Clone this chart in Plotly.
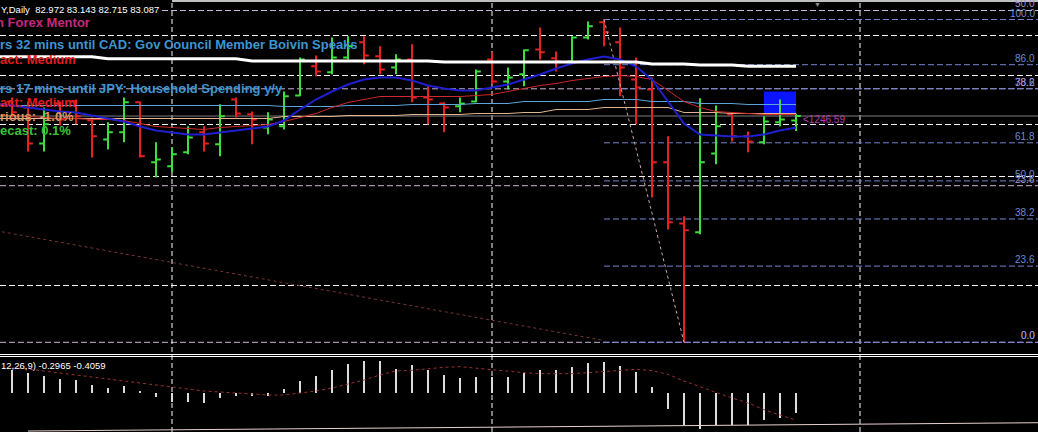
import plotly.graph_objects as go

# ---------------- data ----------------
bar_idx = list(range(50))
opens = [83.45, 83.30, 82.40, 83.40, 83.45, 82.98, 82.50, 82.68, 83.43, 81.93,
         81.83, 82.18, 82.68, 82.38, 83.50, 83.13, 82.80, 82.83, 83.60, 84.33,
         84.18, 84.55, 84.93, 84.58, 84.30, 84.50, 83.55, 83.40, 83.33, 83.45,
         84.50, 83.95, 84.13, 84.75, 84.53, 84.45, 85.05, 85.43, 84.93, 84.00,
         83.75, 81.93, 80.40, 80.18, 82.15, 83.13, 82.58, 82.43, 82.93, 82.972]
highs = [83.55, 83.45, 83.30, 83.45, 83.50, 83.05, 82.93, 83.55, 83.45, 82.43,
         82.30, 82.83, 82.83, 83.38, 83.55, 83.20, 83.18, 83.70, 84.55, 84.60,
         85.05, 85.08, 85.08, 84.83, 84.63, 84.88, 83.83, 83.43, 83.55, 84.25,
         84.68, 84.30, 84.75, 85.30, 84.70, 85.08, 85.45, 85.50, 85.30, 84.55,
         84.05, 82.58, 80.58, 83.53, 83.35, 83.18, 82.70, 83.08, 83.50, 83.143]
lows = [83.05, 82.20, 82.20, 82.85, 82.88, 82.05, 82.25, 82.43, 82.05, 81.55,
        81.68, 82.13, 82.20, 82.08, 83.05, 82.38, 82.63, 82.75, 83.58, 84.08,
        84.13, 84.50, 84.38, 84.13, 84.13, 83.43, 82.88, 82.68, 83.18, 83.43,
        83.88, 83.75, 83.83, 84.50, 84.20, 84.43, 85.00, 84.83, 83.58, 82.88,
        81.05, 80.25, 77.43, 80.13, 81.88, 82.45, 82.18, 82.38, 82.83, 82.715]
closes = [83.18, 82.40, 82.88, 83.00, 83.08, 82.58, 82.68, 83.43, 82.08, 82.00,
          82.13, 82.55, 82.40, 83.08, 83.15, 83.00, 83.00, 83.58, 84.50, 84.20,
          84.55, 84.83, 84.60, 84.25, 84.50, 83.55, 83.50, 83.30, 83.40, 84.20,
          83.95, 84.05, 84.73, 84.68, 84.45, 85.05, 85.33, 85.18, 84.30, 83.80,
          81.93, 80.43, 80.23, 81.93, 82.83, 82.58, 82.45, 82.95, 83.00, 83.087]

ma_idx = list(range(-1, 50))
ma_white = [84.57] * 7 + [84.52] * 9 + [84.46] * 12 + [84.44] * 13 + [84.39] * 3 + [84.36] * 3 + [84.33] * 4
ma_blue = [83.40, 83.35, 83.30, 83.25, 83.20, 83.175, 83.10, 83.025, 82.95, 82.825,
           82.725, 82.675, 82.625, 82.625, 82.675, 82.725, 82.775, 82.825, 82.975, 83.25,
           83.50, 83.70, 83.875, 84.00, 84.05, 84.05, 83.975, 83.85, 83.775, 83.725,
           83.725, 83.80, 83.875, 84.00, 84.125, 84.275, 84.40, 84.50, 84.575, 84.50,
           84.325, 84.00, 83.45, 82.90, 82.625, 82.60, 82.575, 82.575, 82.625, 82.725, 82.80]
ma_red = [83.10, 83.10, 83.075, 83.05, 83.025, 83.025, 83.00, 83.00, 82.975, 82.90,
          82.825, 82.80, 82.775, 82.75, 82.80, 82.825, 82.85, 82.875, 82.95, 83.05,
          83.15, 83.30, 83.425, 83.50, 83.575, 83.575, 83.575, 83.575, 83.575, 83.575,
          83.60, 83.625, 83.70, 83.775, 83.85, 83.90, 83.975, 84.025, 84.075, 84.10,
          84.075, 84.00, 83.725, 83.45, 83.30, 83.20, 83.175, 83.15, 83.125, 83.125, 83.125]
ma_lightblue = [83.35] * 18 + [83.325] * 4 + [83.35] * 4 + [83.375] * 4 + [83.40] * 3 + [83.45] * 5 + [83.50] * 3 + [83.45] * 3 + [83.40] * 3 + [83.375] * 4
ma_tan = [83.025] * 18 + [83.075] * 4 + [83.10] * 4 + [83.125] * 4 + [83.15] * 3 + [83.175] * 2 + [83.25] * 3 + [83.30] * 5 + [83.175] * 3 + [83.15] * 5

macd_hist = [0.345, 0.295, 0.255, 0.205, 0.195, 0.12, 0.07, 0.105, 0.02, -0.065,
             -0.13, -0.13, -0.145, -0.08, -0.045, -0.045, -0.045, 0.055, 0.185, 0.255,
             0.345, 0.435, 0.485, 0.485, 0.355, 0.42, 0.345, 0.27, 0.22, 0.235,
             0.235, 0.235, 0.295, 0.345, 0.345, 0.395, 0.445, 0.465, 0.41, 0.32,
             0.085, -0.24, -0.48, -0.545, -0.48, -0.48, -0.48, -0.405, -0.38, -0.2965]
macd_signal = [0.375, 0.36, 0.33, 0.30, 0.27, 0.24, 0.21, 0.18, 0.15, 0.12,
               0.09, 0.06, 0.03, 0.015, 0.0, -0.015, -0.03, -0.03, 0.0, 0.03,
               0.075, 0.135, 0.195, 0.27, 0.33, 0.34, 0.365, 0.385, 0.395, 0.37,
               0.345, 0.325, 0.305, 0.29, 0.285, 0.29, 0.305, 0.325, 0.345, 0.355,
               0.335, 0.28, 0.18, 0.095, 0.0, -0.075, -0.15, -0.25, -0.33, -0.4059]

fib_levels = [0.0, 23.6, 38.2, 50.0, 61.8, 78.6, 86.0, 100.0]
fib_start_bar = 37
fib_end_bar = 42
fib2_levels = [0.0, 23.6, 38.2, 50.0]
fib2_high = 94.02

grid_prices = [85.10, 84.10, 82.875, 81.575, 78.85]
grid_bars = [10, 30, 53]

trend_idx = [-1, 37]
trend_val = [80.22, 77.475]
macd_trend_idx = [1, 65]
macd_trend_val = [-0.57, -0.444]

box_bars = [47, 49]
box_prices = [83.125, 83.70]

price_tag = "<1246.59"
symbol_text = "Y,Daily"
macd_text = "12,26,9)"
event_lines = [
    ("n Forex Mentor", 23, "#c8287a"),
    ("rs 32 mins until CAD: Gov Council Member Boivin Speaks", 44, "#3c96d2"),
    ("act: Medium", 59, "#e01e1e"),
    ("rs 17 mins until JPY: Household Spending y/y", 89, "#3c96d2"),
    ("act: Medium", 102, "#e01e1e"),
    ("rious: -1.0%", 117, "#d8965e"),
    ("ecast: 0.1%", 131, "#3cc03c"),
]

# ---------------- figure ----------------
W, H = 1038, 432
MAIN_BOTTOM = 352
MACD_TOP = 357
FONT = "Liberation Sans"
HALF = 0.5 / 40  # half a pixel in price units, keeps 1px lines crisp


def ppy(p):
    return 1 - p / H


fig = go.Figure()

# moving averages under the bars
for vals, col, wd in [(ma_tan, "#e0b48c", 1), (ma_lightblue, "#5aa6d8", 1),
                      (ma_red, "#d02828", 1), (ma_blue, "#1f1fd0", 2)]:
    fig.add_trace(go.Scatter(x=ma_idx, y=vals, mode="lines",
                             line=dict(color=col, width=wd), hoverinfo="skip"))

# dotted trend line (left)
fig.add_trace(go.Scatter(x=trend_idx, y=trend_val, mode="lines",
                         line=dict(color="#7a3434", width=1, dash="dot"), hoverinfo="skip"))
# fibo trend line
fig.add_trace(go.Scatter(x=[fib_start_bar, fib_end_bar],
                         y=[highs[fib_start_bar], lows[fib_end_bar]], mode="lines",
                         line=dict(color="#c8a8a8", width=1, dash="dot"), hoverinfo="skip"))

fig.add_trace(go.Ohlc(x=bar_idx, open=opens, high=highs, low=lows, close=closes,
                      increasing=dict(line=dict(color="#3ce03c", width=2)),
                      decreasing=dict(line=dict(color="#e82020", width=2)),
                      tickwidth=0.3, hoverinfo="skip"))

fig.add_trace(go.Scatter(x=ma_idx, y=ma_white, mode="lines",
                         line=dict(color="#ffffff", width=3), hoverinfo="skip"))

# MACD panel
fig.add_trace(go.Bar(x=bar_idx, y=macd_hist, width=0.17, marker=dict(color="#dcdcdc", line=dict(width=0)),
                     yaxis="y2", hoverinfo="skip"))
fig.add_trace(go.Scatter(x=bar_idx, y=macd_signal, mode="lines", yaxis="y2",
                         line=dict(color="#9a3030", width=1, dash="dot"), hoverinfo="skip"))
fig.add_trace(go.Scatter(x=macd_trend_idx, y=macd_trend_val, mode="lines", yaxis="y2",
                         line=dict(color="#e8d0d0", width=1), hoverinfo="skip"))

shapes = []
dash_w = "6px,3px"
# white horizontal dashed lines
for p in grid_prices:
    shapes.append(dict(type="line", xref="paper", x0=0, x1=1, yref="y", y0=p, y1=p,
                       line=dict(color="#f4f4f4", width=1, dash=dash_w), layer="below"))
# second fibo (lavender) full width
lo = lows[fib_end_bar]
for lv in fib2_levels:
    p = lo + (fib2_high - lo) * lv / 100
    shapes.append(dict(type="line", xref="paper", x0=0, x1=1, yref="y", y0=p, y1=p,
                       line=dict(color="#c8b4d4", width=1, dash=dash_w), layer="below"))
# main fibo (blue)
hi = highs[fib_start_bar]
for lv in fib_levels:
    p = lo + (hi - lo) * lv / 100
    shapes.append(dict(type="line", xref="x", x0=fib_start_bar, x1=70, yref="y", y0=p, y1=p,
                       line=dict(color="#7484d0", width=1, dash=dash_w), layer="below"))
# vertical separators
for b in grid_bars:
    shapes.append(dict(type="line", xref="x", x0=b, x1=b, yref="paper", y0=0, y1=1,
                       line=dict(color="#f8f8f8", width=1, dash="5px,3px"), layer="below"))
# blue box
shapes.append(dict(type="rect", xref="x", x0=box_bars[0], x1=box_bars[1], yref="y",
                   y0=box_prices[0], y1=box_prices[1], fillcolor="#0a14ff",
                   line=dict(width=0), layer="below"))
# current price line
shapes.append(dict(type="line", xref="paper", x0=0, x1=1, yref="y", y0=closes[-1], y1=closes[-1],
                   line=dict(color="#7c7c7c", width=1), layer="below"))
# panel separator and top border
for p in (354.5, 356.5):
    shapes.append(dict(type="line", xref="paper", x0=0, x1=1, yref="paper", y0=ppy(p), y1=ppy(p),
                       line=dict(color="#ffffff", width=1)))
shapes.append(dict(type="line", xref="x", x0=grid_bars[0], x1=70, yref="paper", y0=ppy(1), y1=ppy(1),
                   line=dict(color="#ffffff", width=1.5)))

annotations = []
# symbol / OHLC info
annotations.append(dict(xref="paper", yref="paper", x=0, y=ppy(10), xanchor="left", yanchor="middle",
                        text=f"{symbol_text}  {opens[-1]:.3f} {highs[-1]:.3f} {lows[-1]:.3f} {closes[-1]:.3f}",
                        font=dict(family=FONT, size=9.5, color="#ffffff"), showarrow=False,
                        bgcolor="#000000", borderpad=1, xshift=-1))
for txt, ypix, col in event_lines:
    annotations.append(dict(xref="paper", yref="paper", x=0, y=ppy(ypix), xanchor="left", yanchor="middle",
                            text=f"<b>{txt}</b>", font=dict(family=FONT, size=13, color=col),
                            showarrow=False, borderpad=0, xshift=-5 if txt.startswith("n ") else -1))
# fib labels
for lv in fib_levels:
    p = lo + (hi - lo) * lv / 100
    annotations.append(dict(xref="paper", yref="y", x=1036 / W, y=p, xanchor="right", yanchor="bottom",
                            text=f"{lv:.1f}", font=dict(family=FONT, size=10, color="#6e8ad6"),
                            showarrow=False, borderpad=0))
for lv in fib2_levels:
    p = lo + (fib2_high - lo) * lv / 100
    annotations.append(dict(xref="paper", yref="y", x=1036 / W, y=p, xanchor="right", yanchor="bottom",
                            text=f"{lv:.1f}", font=dict(family=FONT, size=10, color="#a090cc"),
                            showarrow=False, borderpad=0))
# price tag
annotations.append(dict(xref="x", yref="y", x=bar_idx[-1] + 0.4, y=closes[-1], xanchor="left",
                        yanchor="middle", yshift=-3, text=price_tag,
                        font=dict(family=FONT, size=10, color="#b43cb8"), showarrow=False, borderpad=0))
# small marker at top
annotations.append(dict(xref="paper", yref="paper", x=817 / W, y=ppy(4), xanchor="center", yanchor="middle",
                        text="▼", font=dict(family=FONT, size=7, color="#8c8c8c"), showarrow=False,
                        borderpad=0))
# MACD label
annotations.append(dict(xref="paper", yref="paper", x=0, y=ppy(365), xanchor="left", yanchor="middle",
                        text=f"{macd_text} {macd_hist[-1]:.4f} {macd_signal[-1]:.4f}",
                        font=dict(family=FONT, size=9.5, color="#ffffff"), showarrow=False, xshift=-1))

fig.update_layout(
    width=W, height=H, margin=dict(l=0, r=0, t=0, b=0),
    paper_bgcolor="#000000", plot_bgcolor="#000000",
    showlegend=False, bargap=0,
    xaxis=dict(range=[-0.75, (W - 12) / 16], visible=False, rangeslider=dict(visible=False),
               anchor="y2", fixedrange=True),
    yaxis=dict(domain=[1 - MAIN_BOTTOM / H, 1],
               range=[86.0 - MAIN_BOTTOM / 40 - HALF, 86.0 - HALF],
               visible=False, fixedrange=True),
    yaxis2=dict(domain=[0, 1 - MACD_TOP / H], range=[(393 - H) * 0.015, (393 - MACD_TOP) * 0.015],
                visible=False, anchor="x", fixedrange=True),
    shapes=shapes, annotations=annotations,
)

fig.write_html("out.html", config={"displayModeBar": False},
               post_script="document.body.style.margin='0';document.body.style.background='#000';")
